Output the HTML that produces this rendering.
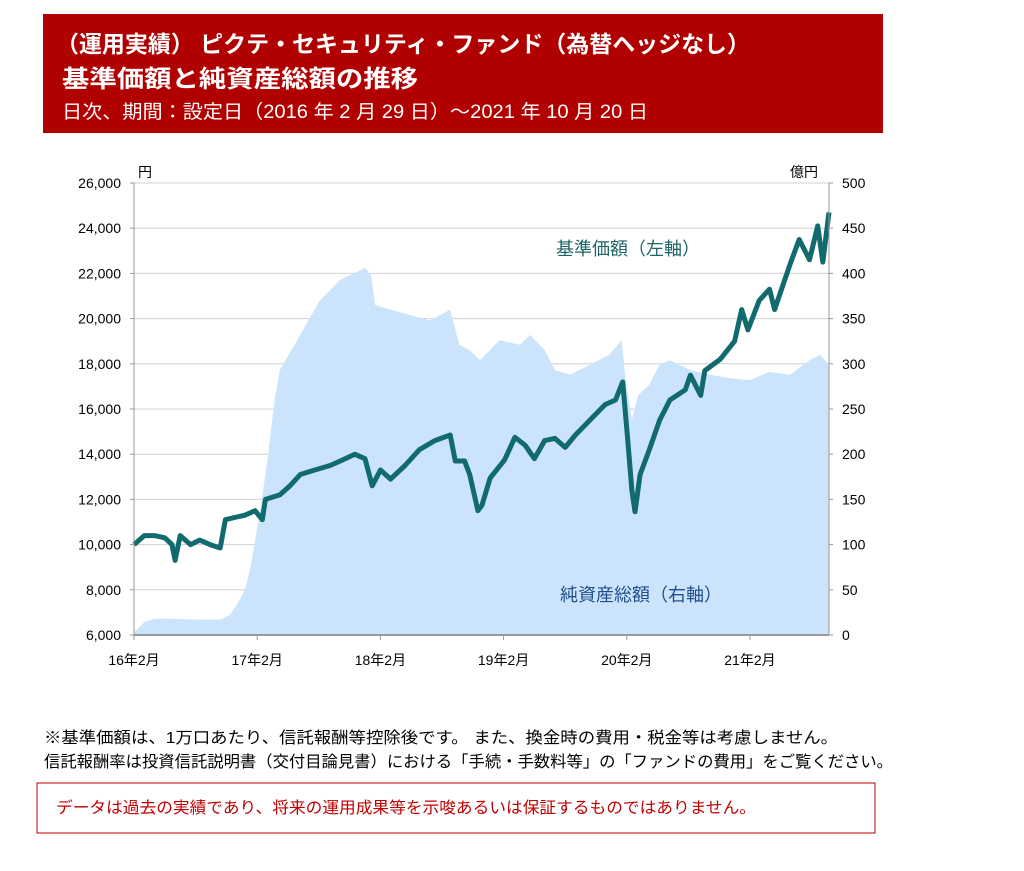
<!DOCTYPE html>
<html><head><meta charset="utf-8"><style>
body{margin:0;background:#fff;width:1024px;height:866px;overflow:hidden;font-family:"Liberation Sans","Noto Sans CJK JP",sans-serif;}
svg text{font-family:"Liberation Sans","Noto Sans CJK JP",sans-serif;}
</style></head><body>
<svg id="chart" width="1024" height="866" xmlns="http://www.w3.org/2000/svg">
<rect x="43" y="14" width="840" height="119" fill="#b00000"/>
<text x="56" y="52" fill="#fff" font-size="23" font-weight="bold" textLength="694" lengthAdjust="spacingAndGlyphs">（運用実績） ピクテ・セキュリティ・ファンド（為替ヘッジなし）</text>
<text x="62" y="87" fill="#fff" font-size="24" font-weight="bold" textLength="356" lengthAdjust="spacingAndGlyphs">基準価額と純資産総額の推移</text>
<text x="62" y="118" fill="#fff" font-size="19" textLength="586" lengthAdjust="spacingAndGlyphs">日次、期間：設定日（2016 年 2 月 29 日）～2021 年 10 月 20 日</text>
<g id="grid"></g>
<g id="area"></g>
<g id="line"></g>
<g id="axes"></g>
<text x="556" y="255" fill="#1d6466" font-size="18">基準価額（左軸）</text>
<text x="560" y="601" fill="#1f4e8c" font-size="18">純資産総額（右軸）</text>
<text x="138" y="177" font-size="14" fill="#000">円</text>
<text x="790" y="177" font-size="14" fill="#000">億円</text>
<text x="44" y="743" font-size="16" fill="#000" textLength="794" lengthAdjust="spacingAndGlyphs">※基準価額は、1万口あたり、信託報酬等控除後です。 また、換金時の費用・税金等は考慮しません。</text>
<text x="44" y="767" font-size="16" fill="#000" textLength="849" lengthAdjust="spacingAndGlyphs">信託報酬率は投資信託説明書（交付目論見書）における「手続・手数料等」の「ファンドの費用」をご覧ください。</text>
<rect x="37" y="783" width="838" height="50" fill="none" stroke="#c00000" stroke-width="1"/>
<text x="56" y="813" font-size="16" fill="#c00000" textLength="700" lengthAdjust="spacingAndGlyphs">データは過去の実績であり、将来の運用成果等を示唆あるいは保証するものではありません。</text>
</svg>
<script>
const leftTicks=[6000,8000,10000,12000,14000,16000,18000,20000,22000,24000,26000];
const rightTicks=[0,50,100,150,200,250,300,350,400,450,500];
const xTickMonths=[0,12,24,36,48,60];
const xTickLabels=["16年2月","17年2月","18年2月","19年2月","20年2月","21年2月"];
const navMonths=[0,1,2,3,3.7,4,4.5,5.5,6.4,7.4,8.4,8.9,9.8,10.8,11.8,12.5,12.8,14.2,15.2,16.2,17.6,19.1,20.1,21.5,22.5,23.2,24,25,26.4,27.8,29.3,30.8,31.3,32.2,32.7,33.5,33.9,34.7,36.1,37.1,38.1,39,40,41,42,43,44.4,45.9,46.9,47.6,48.1,48.5,48.8,49.3,50.2,51.2,52.2,53.7,54.2,55.2,55.6,57.1,58.5,59.2,59.8,60.9,61.9,62.4,63.9,64.8,65.8,66.6,67.1,67.7];
const navValues=[10000,10400,10400,10300,10000,9300,10400,10000,10200,10000,9850,11100,11200,11300,11500,11100,12000,12200,12600,13100,13300,13500,13700,14000,13800,12600,13300,12900,13500,14200,14600,14850,13700,13700,13100,11500,11750,12950,13750,14750,14400,13800,14600,14700,14300,14850,15500,16200,16400,17200,14600,12400,11450,13100,14200,15500,16400,16850,17500,16600,17700,18200,19000,20400,19500,20800,21300,20400,22400,23500,22600,24100,22500,24700];
const aumMonths=[0,1,2,3.5,6.4,8.4,9.3,10,10.8,11.3,12.3,13,13.7,14.2,16.2,18.1,20.1,22.5,23.1,23.5,25,26.9,28.8,30.8,31.7,32.7,33.7,35.6,37.6,38.6,40,41,42.5,44.4,46.3,47.5,47.9,48.5,49.1,50.2,51.2,52.2,54.2,56.1,58,60,61.9,63.9,65.8,66.8,67.7];
const aumValues=[3,14,18,18,17,17,22,33,50,72,138,194,260,293,332,370,393,406,398,365,360,354,348,360,321,315,304,326,321,332,315,293,288,299,310,326,282,238,265,277,299,304,293,288,284,282,291,288,304,310,299];
const NS="http://www.w3.org/2000/svg";
const X0=134,X1=829,Y0=635,Y1=183,MEND=67.7;
const xs=m=>X0+(X1-X0)*m/MEND;
const yl=v=>Y0-(v-6000)/20000*(Y0-Y1);
const yr=v=>Y0-v/500*(Y0-Y1);
function mk(tag,attrs,parent){const e=document.createElementNS(NS,tag);for(const k in attrs)e.setAttribute(k,attrs[k]);document.getElementById(parent).appendChild(e);return e;}
leftTicks.forEach((t,i)=>{
 if(i>0){const g=mk('line',{x1:X0,x2:X1,y1:yl(t),y2:yl(t),stroke:'#d0d0d0','stroke-width':1},'grid');
 
 }
 const tx=mk('text',{x:121,y:yl(t)+5,'text-anchor':'end','font-size':14,fill:'#000'},'axes');tx.textContent=t.toLocaleString('en-US');
 
 
 const tk=mk('line',{x1:X0-4,x2:X0,y1:yl(t),y2:yl(t),stroke:'#999'},'axes');
 
 
});
rightTicks.forEach(t=>{
 const tx=mk('text',{x:842,y:yr(t)+5,'font-size':14,fill:'#000'},'axes');tx.textContent=t;
 
 
 const tk=mk('line',{x1:X1,x2:X1+4,y1:yr(t),y2:yr(t),stroke:'#999'},'axes');
 
 
});
xTickMonths.forEach((m,i)=>{
 const tx=mk('text',{x:xs(m),y:665,'text-anchor':'middle','font-size':14,fill:'#000'},'axes');tx.textContent=xTickLabels[i];
 
 
 const tk=mk('line',{x1:xs(m),x2:xs(m),y1:Y0,y2:Y0+5,stroke:'#999'},'axes');
 
 
});
let d='M'+xs(aumMonths[0])+','+Y0;
aumMonths.forEach((m,i)=>{d+=' L'+xs(m).toFixed(1)+','+yr(aumValues[i]).toFixed(1);});
d+=' L'+xs(aumMonths[aumMonths.length-1])+','+Y0+' Z';
const ar=mk('path',{d:d,fill:'#cce4fb'},'area');


let dl='';
navMonths.forEach((m,i)=>{dl+=(i?' L':'M')+xs(m).toFixed(1)+','+yl(navValues[i]).toFixed(1);});
const ln=mk('path',{d:dl,fill:'none',stroke:'#116a6e','stroke-width':5,'stroke-linejoin':'round'},'line');


const ax=mk('line',{x1:X0,x2:X0,y1:Y1,y2:Y0,stroke:'#999'},'axes');


const ax2=mk('line',{x1:X1,x2:X1,y1:Y1,y2:Y0,stroke:'#999'},'axes');


const ax3=mk('line',{x1:X0,x2:X1,y1:Y0,y2:Y0,stroke:'#999','stroke-width':2},'axes');


</script>
</body></html>
